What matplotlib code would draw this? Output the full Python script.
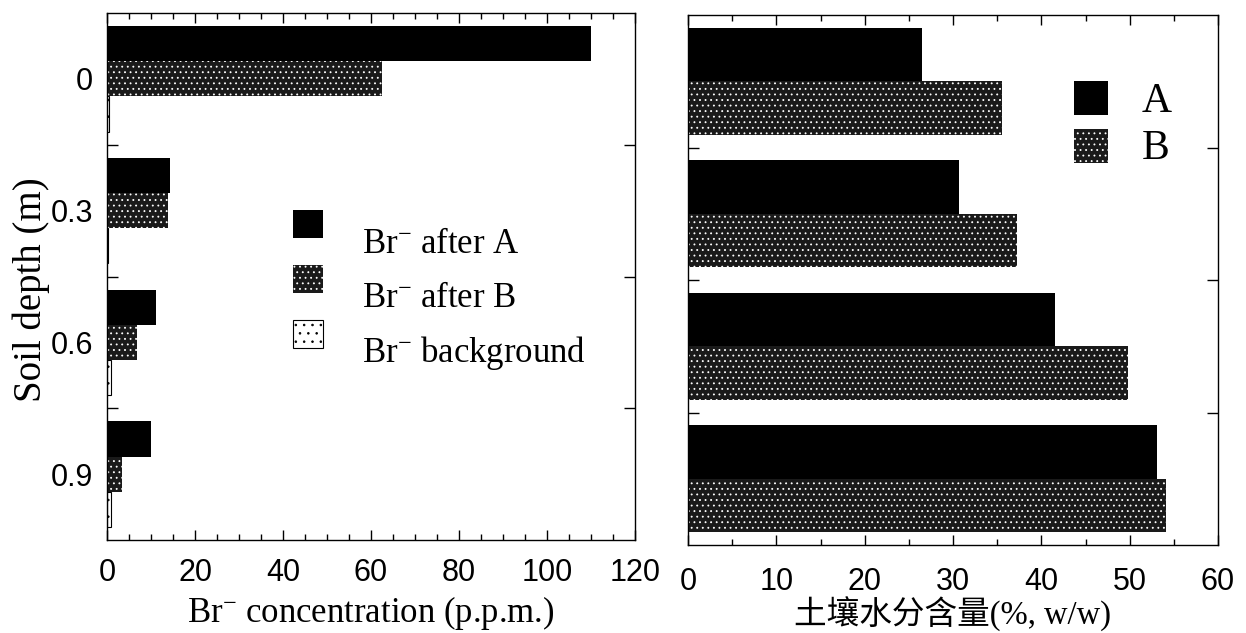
import matplotlib
matplotlib.use("Agg")
import matplotlib.pyplot as plt
from matplotlib.patches import Rectangle
from matplotlib.ticker import MultipleLocator, FixedLocator, NullFormatter
import numpy as np

# Soil depth classes (m)
depths = ["0", "0.3", "0.6", "0.9"]

# Bromide concentration (p.p.m.)
br_after_a = [110.0, 14.3, 11.1, 10.0]
br_after_b = [62.5, 13.9, 6.8, 3.4]
br_background = [0.5, 0.3, 1.0, 0.8]

# Soil water content (%, w/w)
water_a = [26.5, 30.7, 41.6, 53.1]
water_b = [35.5, 37.3, 49.8, 54.1]

legend_left = ["Br$^{-}$ after A", "Br$^{-}$ after B", "Br$^{-}$ background"]
legend_right = ["A", "B"]

plt.rcParams["mathtext.fontset"] = "custom"
plt.rcParams["mathtext.rm"] = "Liberation Serif"
plt.rcParams["mathtext.it"] = "Liberation Serif:italic"
plt.rcParams["mathtext.bf"] = "Liberation Serif:bold"
plt.rcParams["hatch.color"] = "white"
plt.rcParams["hatch.linewidth"] = 0.6

SANS = "Liberation Sans"
SERIF = ["Liberation Serif", "Noto Sans CJK SC"]

fig = plt.figure(figsize=(12.46, 6.33), dpi=100)
W, H = 1246, 633


def axes_px(left, top, right, bottom):
    return fig.add_axes([left / W, 1 - bottom / H, (right - left) / W, (bottom - top) / H])


ax1 = axes_px(107, 13, 635, 540)
ax2 = axes_px(688, 15, 1218, 545)

ypos = np.arange(len(depths))

dark_kw = dict(color="black", linewidth=0)
dotted_kw = dict(facecolor="#1a1a1a", hatch="...", linewidth=0)
light_kw = dict(facecolor="white", edgecolor="black", hatch="..", linewidth=0.8)

# Left panel: bromide profile
h1 = 0.267
ax1.barh(ypos - h1, br_after_a, height=h1, **dark_kw)
ax1.barh(ypos, br_after_b, height=h1, **dotted_kw)
ax1.barh(ypos + h1, br_background, height=h1, **light_kw)

# Right panel: soil water content
h2 = 0.405
ax2.barh(ypos - h2 / 2, water_a, height=h2, **dark_kw)
ax2.barh(ypos + h2 / 2, water_b, height=h2, **dotted_kw)

ax1.set_xlim(0, 120)
ax1.xaxis.set_major_locator(MultipleLocator(20))
ax1.xaxis.set_minor_locator(MultipleLocator(5))

ax2.set_xlim(0, 60)
ax2.xaxis.set_major_locator(MultipleLocator(10))
ax2.xaxis.set_minor_locator(MultipleLocator(5))

for ax, xpad in ((ax1, 13), (ax2, 16)):
    ax.set_ylim(len(depths) - 0.5, -0.5)
    for sp in ax.spines.values():
        sp.set_linewidth(1.0)
    ax.yaxis.set_major_locator(FixedLocator(ypos))
    ax.yaxis.set_minor_locator(FixedLocator(ypos[:-1] + 0.5))
    ax.tick_params(axis="y", which="major", length=0, pad=10)
    ax.tick_params(axis="y", which="minor", direction="in", length=8, width=1,
                   left=True, right=True)
    ax.tick_params(axis="x", which="both", direction="in", top=True, bottom=True,
                   pad=xpad, width=1)
    ax.tick_params(axis="x", which="major", length=7)
    ax.tick_params(axis="x", which="minor", length=4)

ax1.set_yticklabels(depths)
ax2.yaxis.set_major_formatter(NullFormatter())
fig.canvas.draw()
for ax in (ax1, ax2):
    for lab in ax.get_xticklabels() + ax.get_yticklabels():
        lab.set_fontfamily(SANS)
        lab.set_fontsize(22)

ax1.set_xlabel("Br$^{-}$ concentration (p.p.m.)", family=SERIF, fontsize=25, va="top")
ax1.xaxis.set_label_coords(0.5, (540 - 594) / 527)
ax1.set_ylabel("Soil depth (m)", family=SERIF, fontsize=28)
ax1.yaxis.set_label_coords((50 - 107) / 528, (540 - 290) / 527)
ax2.set_xlabel("土壤水分含量(%, w/w)", family=SERIF, fontsize=23.5, va="top")
ax2.xaxis.set_label_coords(0.5, (545 - 597) / 530)


def draw_key(ax, x0, x1, tops, height, text_x, baselines, labels, styles, size):
    # keys placed in pixel positions converted to axes fractions
    bb = ax.get_position()
    ax_l, ax_b = bb.x0 * W, (1 - bb.y0) * H
    aw, ah = bb.width * W, bb.height * H
    for top, base, lab, st in zip(tops, baselines, labels, styles):
        ax.add_patch(Rectangle(((x0 - ax_l) / aw, (ax_b - top - height) / ah),
                               (x1 - x0) / aw, height / ah,
                               transform=ax.transAxes, clip_on=False, **st))
        ax.text((text_x - ax_l) / aw, (ax_b - base) / ah, lab, transform=ax.transAxes,
                family=SERIF, fontsize=size, va="baseline", ha="left")


draw_key(ax1, 293, 323, [210, 265, 320], 28, 362, [253, 307, 362],
         legend_left, [dark_kw, dotted_kw, light_kw], 25)
draw_key(ax2, 1074, 1108, [81, 129], 34, 1142, [112, 159],
         legend_right, [dark_kw, dotted_kw], 30)

fig.savefig("out.png", dpi=100)
